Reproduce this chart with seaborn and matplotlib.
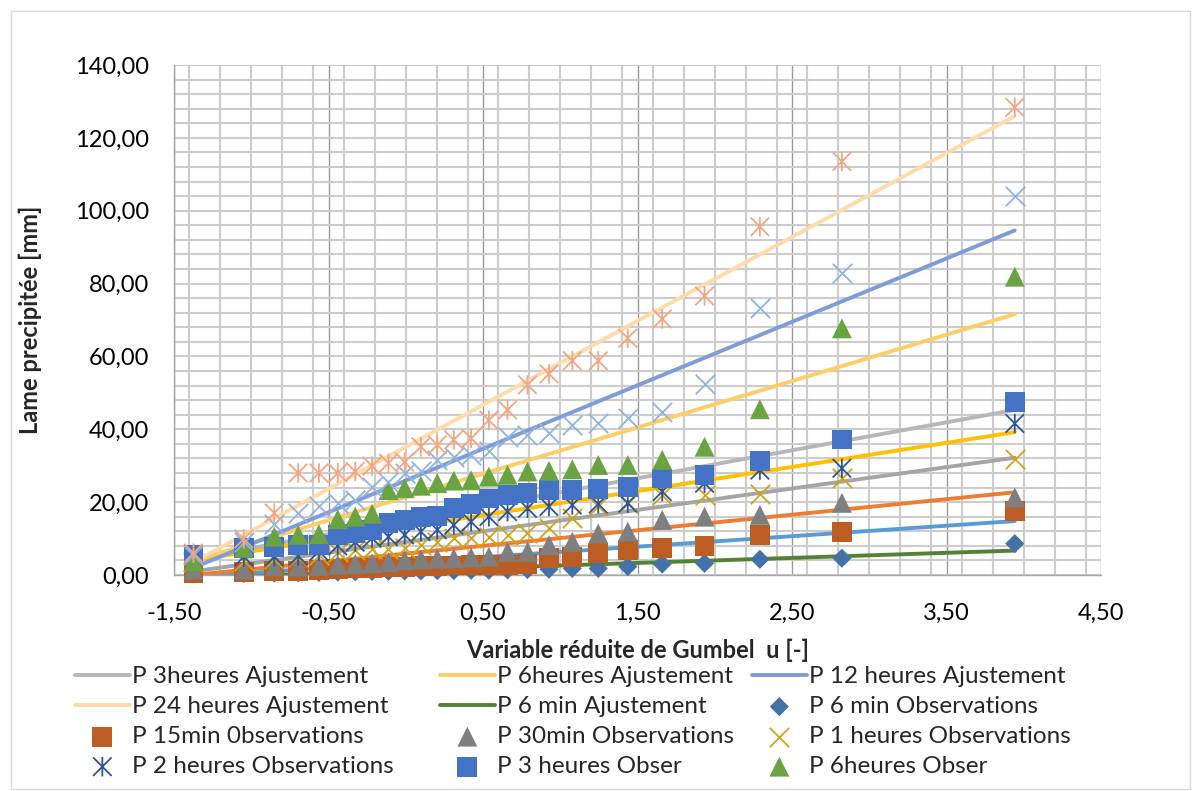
import numpy as np
import pandas as pd
import matplotlib
matplotlib.use("Agg")
import matplotlib.pyplot as plt
import seaborn as sns
from matplotlib.path import Path
from matplotlib.ticker import MultipleLocator, FixedLocator, FuncFormatter
from matplotlib.patches import Rectangle

# Gumbel reduced variable u (x positions of the observations)
U = [-1.374, -1.048, -0.851, -0.696, -0.562, -0.440, -0.327, -0.218, -0.112, -0.007,
     0.098, 0.204, 0.311, 0.423, 0.538, 0.659, 0.788, 0.927, 1.078, 1.246,
     1.437, 1.660, 1.934, 2.292, 2.823, 3.942]

# Fitted lines (endpoints)
fit_u = [-1.374, 3.942]
fit_6min = [-0.7, 6.7]
fit_15min = [-0.5, 14.8]
fit_30min = [0.0, 22.7]
fit_1h = [1.0, 32.2]
fit_2h = [4.0, 39.2]
fit_3h = [4.5, 45.3]
fit_6h = [3.9, 71.6]
fit_12h = [2.0, 94.6]
fit_24h = [3.5, 126.0]

# Observations
obs_6min = [0.3, 0.4, 0.5, 0.6, 0.7, 0.8, 0.9, 1.0, 1.0, 1.1, 1.1, 1.2, 1.2, 1.3, 1.3,
            1.4, 1.5, 1.6, 1.8, 1.8, 2.3, 3.0, 3.2, 4.3, 4.6, 8.6]
obs_15min = [0.5, 0.8, 1.0, 1.2, 1.4, 1.6, 1.8, 2.0, 2.1, 2.3, 2.4, 2.5, 2.6, 2.7, 2.8,
             2.7, 2.9, 4.6, 5.0, 6.0, 6.9, 7.3, 8.0, 11.0, 11.9, 17.6]
obs_30min = [1.5, 1.5, 2.3, 2.3, 2.5, 2.8, 3.0, 3.2, 3.5, 4.0, 4.3, 4.5, 4.6, 4.8, 5.0,
             6.4, 6.4, 8.2, 9.1, 11.4, 11.9, 15.1, 16.0, 16.5, 19.8, 21.3]
obs_1h = [3.5, 3.8, 4.5, 5.0, 5.5, 6.4, 6.9, 7.0, 7.0, 7.3, 8.2, 9.1, 10.1, 10.1, 10.5,
          11.0, 11.4, 12.8, 15.6, 18.8, 19.7, 22.0, 22.0, 22.2, 26.5, 31.8]
obs_2h = [5.5, 5.0, 5.0, 5.2, 6.5, 8.0, 9.0, 10.1, 10.5, 11.0, 11.9, 12.4, 13.7, 14.6, 16.0,
          17.4, 18.3, 18.8, 19.2, 19.5, 19.7, 22.9, 25.2, 28.8, 29.3, 41.6]
obs_3h = [5.5, 7.3, 7.8, 8.2, 8.2, 11.0, 11.4, 12.4, 14.2, 15.1, 16.0, 16.3, 18.5, 19.5, 21.0,
          22.0, 22.5, 23.3, 23.4, 23.5, 24.2, 26.5, 27.4, 31.3, 37.2, 47.4]
obs_6h = [3.8, 7.5, 10.5, 11.0, 11.2, 15.3, 16.0, 16.8, 23.3, 23.8, 24.5, 25.2, 25.9, 26.0, 27.0,
          27.5, 28.4, 28.6, 29.0, 30.2, 30.2, 31.6, 35.2, 45.5, 67.7, 81.9]
obs_12h = [5.5, 9.0, 14.0, 17.1, 18.8, 19.7, 20.6, 24.2, 25.6, 28.0, 28.5, 31.6, 32.5, 32.9, 33.9,
           38.0, 38.4, 38.9, 41.2, 41.6, 43.0, 44.7, 52.4, 73.4, 82.8, 104.0]
obs_24h = [6.0, 9.9, 17.0, 28.0, 28.0, 28.0, 28.4, 29.9, 30.7, 31.0, 35.2, 35.7, 37.1, 37.5, 42.5,
           45.3, 52.2, 55.2, 58.8, 58.8, 65.0, 70.3, 76.6, 95.6, 113.5, 128.4]

x_ticks = [-1.5, -0.5, 0.5, 1.5, 2.5, 3.5, 4.5]
y_ticks = [0, 20, 40, 60, 80, 100, 120, 140]

sns.set_theme(style="white")
plt.rcParams['font.family'] = ['Lato', 'DejaVu Sans']

fig = plt.figure(figsize=(12, 7.91), dpi=100)
ax = fig.add_axes([0.145, 0.2731, 0.7725, 0.6447])

# Fits
lw = 2.8
fits = [
    (fit_6min, "#548235", "P 6 min Ajustement"),
    (fit_15min, "#5B9BD5", "_nolegend_"),
    (fit_30min, "#ED7D31", "_nolegend_"),
    (fit_1h, "#A5A5A5", "_nolegend_"),
    (fit_2h, "#FFC000", "_nolegend_"),
    (fit_3h, "#B7B7B7", "P 3heures Ajustement"),
    (fit_6h, "#FFCD66", "P 6heures Ajustement"),
    (fit_12h, "#7F9BD8", "P 12 heures Ajustement"),
    (fit_24h, "#FFDBA8", "P 24 heures Ajustement"),
]
fit_handles = {}
for vals, col, lab in fits:
    sns.lineplot(x=fit_u, y=vals, color=col, linewidth=lw, ax=ax, label=lab,
                 zorder=2, solid_capstyle='round', legend=False)
    fit_handles[lab] = ax.lines[-1]

star = Path([(-1, -1), (1, 1), (-1, 1), (1, -1), (0, -1.05), (0, 1.05)],
            [Path.MOVETO, Path.LINETO, Path.MOVETO, Path.LINETO, Path.MOVETO, Path.LINETO])

obs = [
    (obs_6min, "D", 95, "#4472A8", "P 6 min Observations", "filled"),
    (obs_15min, "s", 205, "#BC5E24", "P 15min 0bservations", "filled"),
    (obs_30min, "^", 205, "#7F7F7F", "P 30min Observations", "filled"),
    (obs_1h, "x", 195, "#D0A418", "P 1 heures Observations", "x"),
    (obs_2h, star, 195, "#2F5597", "P 2 heures Observations", "star"),
    (obs_3h, "s", 205, "#4472C4", "P 3 heures Obser", "filled"),
    (obs_6h, "^", 205, "#6AA342", "P 6heures Obser", "filled"),
    (obs_12h, "x", 195, "#8DB4E2", "_nolegend_", "x"),
    (obs_24h, star, 195, "#F4A582", "_nolegend_", "star"),
]
obs_handles = {}
z = 3
for vals, mk, s, col, lab, kind in obs:
    if kind == "filled":
        sns.scatterplot(x=U, y=vals, marker=mk, s=s, color=col, edgecolor='none',
                        linewidth=0, ax=ax, label=lab, zorder=z, clip_on=False, legend=False)
    elif kind == "x":
        sns.scatterplot(x=U, y=vals, marker=mk, s=s, color=col, edgecolor=col,
                        linewidth=1.3, ax=ax, label=lab, zorder=z, clip_on=False, legend=False)
    else:
        sns.scatterplot(x=U, y=vals, marker=mk, s=s, facecolor='none', edgecolor=col,
                        linewidth=1.3, ax=ax, label=lab, zorder=z, clip_on=False, legend=False)
    obs_handles[lab] = ax.collections[-1]
    z += 0.1

ax.set_xlim(-1.5, 4.5)
ax.set_ylim(0, 140)
ax.xaxis.set_major_locator(FixedLocator(x_ticks))
ax.xaxis.set_minor_locator(MultipleLocator(0.2))
ax.yaxis.set_major_locator(FixedLocator(y_ticks))
ax.yaxis.set_minor_locator(MultipleLocator(4))
fmt = FuncFormatter(lambda v, p: f"{v:.2f}".replace(".", ","))
ax.xaxis.set_major_formatter(fmt)
ax.yaxis.set_major_formatter(fmt)

ax.grid(which='minor', axis='both', color='#CCCCCC', linewidth=1.5, zorder=0)
ax.grid(which='major', axis='y', color='#CCCCCC', linewidth=1.5, zorder=0)
ax.grid(which='major', axis='x', color='#9A9A9A', linewidth=1.0, zorder=0)
ax.set_axisbelow(True)
for sp in ['top', 'right']:
    ax.spines[sp].set_visible(False)
for sp in ['left', 'bottom']:
    ax.spines[sp].set_color('#A6A6A6')
    ax.spines[sp].set_linewidth(1.0)

ax.tick_params(axis='both', which='both', length=0, labelsize=17, colors='black')
ax.tick_params(axis='y', pad=18)
ax.tick_params(axis='x', pad=20)

ax.set_xlabel("Variable réduite de Gumbel  u [-]", fontsize=17, fontweight='bold')
ax.set_ylabel("Lame precipitée [mm]", fontsize=17, fontweight='bold')
ax.xaxis.set_label_coords(0.5, -0.125)
ax.yaxis.set_label_coords(-0.142, 0.5)

# Legend laid out in rows (left to right), one legend per column
columns = [
    [fit_handles["P 3heures Ajustement"], fit_handles["P 24 heures Ajustement"],
     obs_handles["P 15min 0bservations"], obs_handles["P 2 heures Observations"]],
    [fit_handles["P 6heures Ajustement"], fit_handles["P 6 min Ajustement"],
     obs_handles["P 30min Observations"], obs_handles["P 3 heures Obser"]],
    [fit_handles["P 12 heures Ajustement"], obs_handles["P 6 min Observations"],
     obs_handles["P 1 heures Observations"], obs_handles["P 6heures Obser"]],
]
col_x = [75, 440, 752]
for hs, cx in zip(columns, col_x):
    fig.legend(hs, [h.get_label() for h in hs], loc='upper left',
               bbox_to_anchor=(cx / 1200, 1 - 666 / 791), ncol=1,
               frameon=False, fontsize=17.5, handlelength=2.25, handletextpad=0.1,
               labelspacing=0.37, borderaxespad=0, borderpad=0)

fig.add_artist(Rectangle((11 / 1200, 1 - 789 / 791), (1190 - 11) / 1200, (789 - 11) / 791,
                         transform=fig.transFigure, fill=False, edgecolor='#D9D9D9', linewidth=1.0))

fig.savefig("out.png", dpi=100)
